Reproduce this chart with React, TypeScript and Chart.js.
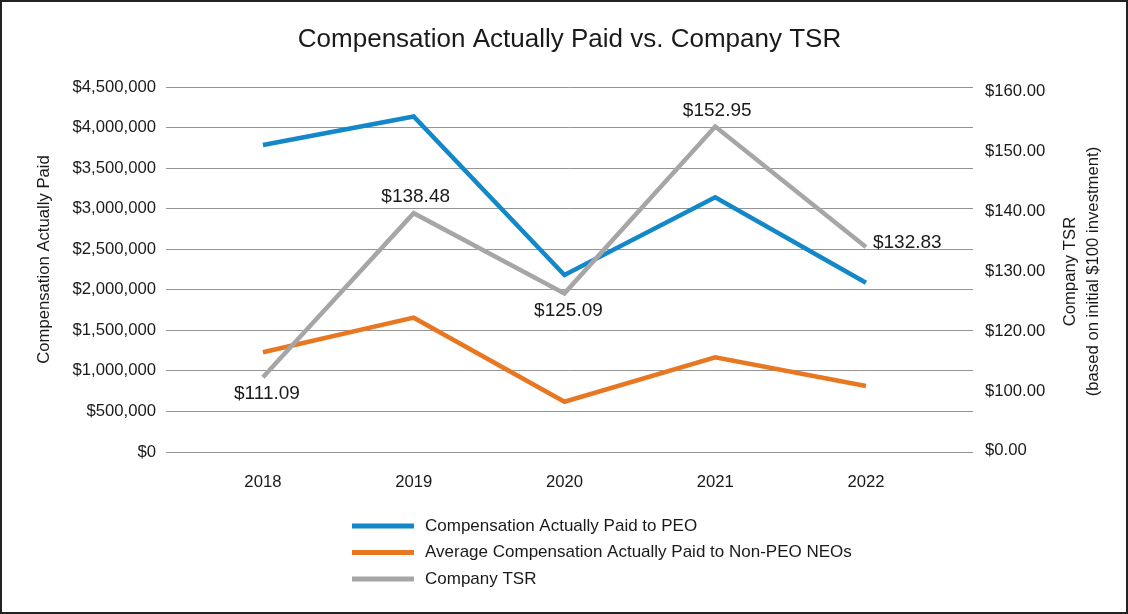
import React, { useEffect, useRef } from 'react';
import { Chart, registerables } from 'chart.js';

Chart.register(...registerables);

// ---------- data ----------
const years = [2018, 2019, 2020, 2021, 2022];
const peoCap = [3785000, 4136000, 2182000, 3140000, 2087000];
const neoCap = [1229000, 1656000, 620000, 1167000, 814000];
const tsr = [111.09, 138.48, 125.09, 152.95, 132.83];

const seriesNames = [
  'Compensation Actually Paid to PEO',
  'Average Compensation Actually Paid to Non-PEO NEOs',
  'Company TSR',
];

const leftTicks = [0, 500000, 1000000, 1500000, 2000000, 2500000, 3000000, 3500000, 4000000, 4500000];
const rightTickValues = [98.8, 108.8, 118.8, 128.8, 138.8, 148.8, 158.8];
const rightTickLabels = ['$0.00', '$100.00', '$120.00', '$130.00', '$140.00', '$150.00', '$160.00'];

const chartTitle = 'Compensation Actually Paid vs. Company TSR';
const leftAxisTitle = 'Compensation Actually Paid';
const rightAxisTitle = ['Company TSR', '(based on initial $100 investment)'];

// label placement for TSR data labels (style)
const tsrLabelPlacement = ['below', 'above', 'below', 'above', 'right'];

// ---------- styles ----------
const FONT = "'Liberation Sans', Arial, Helvetica, sans-serif";
const TEXT = '#1a1a1a';
const BLUE = '#1288c8';
const ORANGE = '#e87722';
const GRAY = '#a6a6a6';
const GRID = '#949494';

const extrasPlugin = {
  id: 'extras',
  afterDatasetsDraw(chart: any) {
    const ctx = chart.ctx;
    // TSR data labels
    const meta = chart.getDatasetMeta(2);
    ctx.save();
    ctx.font = `19px ${FONT}`;
    ctx.fillStyle = TEXT;
    ctx.textBaseline = 'middle';
    meta.data.forEach((pt: any, i: number) => {
      const txt = '$' + tsr[i].toFixed(2);
      const p = tsrLabelPlacement[i];
      if (p === 'below') {
        ctx.textAlign = 'center';
        ctx.fillText(txt, pt.x + 4, pt.y + 17);
      } else if (p === 'above') {
        ctx.textAlign = 'center';
        ctx.fillText(txt, pt.x + 2, pt.y - 16);
      } else {
        ctx.textAlign = 'left';
        ctx.fillText(txt, pt.x + 7, pt.y - 4);
      }
    });
    ctx.restore();
  },
  afterDraw(chart: any) {
    const ctx = chart.ctx;
    const area = chart.chartArea;
    ctx.save();
    // axis titles
    ctx.fillStyle = TEXT;
    ctx.font = `16.7px ${FONT}`;
    ctx.textAlign = 'center';
    ctx.textBaseline = 'middle';
    ctx.save();
    ctx.translate(44, (area.top + area.bottom) / 2 - 10);
    ctx.rotate(-Math.PI / 2);
    ctx.fillText(leftAxisTitle, 0, 0);
    ctx.restore();
    rightAxisTitle.forEach((t, i) => {
      ctx.save();
      ctx.translate(1070 + i * 23, (area.top + area.bottom) / 2 + 2);
      ctx.rotate(-Math.PI / 2);
      ctx.fillText(t, 0, 0);
      ctx.restore();
    });
    // legend (vertical list below chart)
    const ds = chart.data.datasets;
    ctx.font = `17px ${FONT}`;
    ctx.textAlign = 'left';
    ds.forEach((d: any, i: number) => {
      const y = 526 + i * 26.5;
      ctx.beginPath();
      ctx.strokeStyle = d.borderColor;
      ctx.lineWidth = 5;
      ctx.lineCap = 'butt';
      ctx.moveTo(352, y);
      ctx.lineTo(414, y);
      ctx.stroke();
      ctx.fillStyle = TEXT;
      ctx.fillText(d.label, 425, y);
    });
    // frame
    ctx.strokeStyle = '#222222';
    ctx.lineWidth = 2;
    ctx.strokeRect(1, 1, chart.width - 2, chart.height - 2);
    ctx.restore();
  },
};

export default function App() {
  const ref = useRef<HTMLCanvasElement | null>(null);

  useEffect(() => {
    if (!ref.current) return;
    Chart.defaults.font.family = FONT;
    const chart = new Chart(ref.current, {
      type: 'line',
      data: {
        labels: years,
        datasets: [
          {
            label: seriesNames[0],
            data: peoCap,
            yAxisID: 'y',
            borderColor: BLUE,
            backgroundColor: BLUE,
            borderWidth: 4.5,
            pointRadius: 0,
            tension: 0,
            order: 2,
            borderJoinStyle: 'miter',
          },
          {
            label: seriesNames[1],
            data: neoCap,
            yAxisID: 'y',
            borderColor: ORANGE,
            backgroundColor: ORANGE,
            borderWidth: 4.5,
            pointRadius: 0,
            tension: 0,
            order: 1,
            borderJoinStyle: 'miter',
          },
          {
            label: seriesNames[2],
            data: tsr,
            yAxisID: 'y2',
            borderColor: GRAY,
            backgroundColor: GRAY,
            borderWidth: 4.5,
            pointRadius: 0,
            tension: 0,
            order: 0,
            borderJoinStyle: 'miter',
          },
        ],
      },
      options: {
        responsive: false,
        animation: false,
        devicePixelRatio: 1,
        layout: { padding: 0 },
        plugins: {
          legend: { display: false },
          tooltip: { enabled: false },
          title: {
            display: true,
            text: chartTitle,
            fullSize: false,
            color: TEXT,
            font: { size: 26, weight: 'normal', family: FONT },
            padding: { top: 24, bottom: 31.8 },
          },
        },
        scales: {
          x: {
            type: 'linear',
            position: 'bottom',
            min: 2017.357,
            max: 2022.71,
            grid: { display: false, drawTicks: false },
            border: { display: false },
            afterBuildTicks: (s: any) => {
              s.ticks = years.map((v) => ({ value: v }));
            },
            afterFit: (s: any) => {
              s.height = 162;
            },
            ticks: {
              autoSkip: false,
              maxRotation: 0,
              padding: 20,
              color: TEXT,
              font: { size: 16.7, family: FONT },
              callback: (v: any) => String(v),
            },
          },
          y: {
            position: 'left',
            min: 0,
            max: 4500000,
            afterBuildTicks: (s: any) => {
              s.ticks = leftTicks.map((v) => ({ value: v }));
            },
            afterFit: (s: any) => {
              s.width = 166;
            },
            grid: { color: GRID, lineWidth: 1, drawTicks: false },
            border: { display: false },
            ticks: {
              padding: 10,
              color: TEXT,
              font: { size: 16.7, family: FONT },
              callback: (v: any) => '$' + Number(v).toLocaleString('en-US'),
            },
          },
          y2: {
            position: 'right',
            min: 98.6,
            max: 159.55,
            afterBuildTicks: (s: any) => {
              s.ticks = rightTickValues.map((v) => ({ value: v }));
            },
            afterFit: (s: any) => {
              s.width = 155;
            },
            grid: { display: false, drawTicks: false },
            border: { display: false },
            ticks: {
              padding: 12,
              color: TEXT,
              font: { size: 16.7, family: FONT },
              callback: (_v: any, i: number) => rightTickLabels[i],
            },
          },
        },
      },
      plugins: [extrasPlugin],
    } as any);
    return () => chart.destroy();
  }, []);

  return (
    <div style={{ position: 'fixed', left: 0, top: 0, width: 1128, height: 614, background: '#ffffff' }}>
      <canvas ref={ref} width={1128} height={614} />
    </div>
  );
}
